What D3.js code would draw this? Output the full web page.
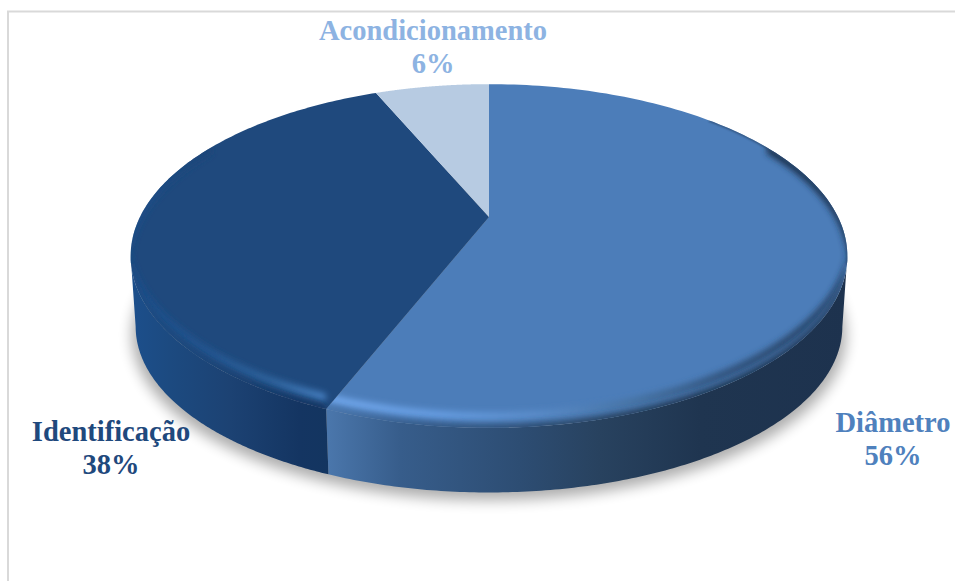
<!DOCTYPE html>
<html><head><meta charset="utf-8">
<script src="https://cdn.jsdelivr.net/npm/d3@7"></script>
<style>html,body{margin:0;background:#fff}svg{display:block}text{font-family:"Liberation Serif",serif;font-weight:bold;font-size:28.5px;text-anchor:middle}</style>
</head><body><svg id="c" width="955" height="581"></svg>
<script>
const categories=["Diâmetro","Identificação","Acondicionamento"];
const values=[56,37.6,6.4];
const topColors=["#4c7db9","#1f497d","#b7cbe2"];
const labelColors=["#4f81bd","#1f497d","#8db3e2"];
const labelPos=[[893,432],[111,441],[433,40]];

const svg=d3.select("#c"),defs=svg.append("defs");
const arcs=d3.pie().sort(null).value(d=>d)(values);
const W=955,H=581,PI=Math.PI;
// perspective disc: screen position of a rim point at angle t, depth h (0 top face, 1 base)
const cx=489,persp=.227;
function proj(t,r,h){
  const u=r*Math.sin(t),v=r*Math.cos(t),w=1+persp*v;
  const X=349*u/w,Y=-163*v/w;
  const sx=1-h*.014, sy=1-h*.035;
  return [cx+X*sx, 217+Y*sy+h*72];
}
const line=d3.line();
const samples=(a,b,r,h)=>d3.range(0,161).map(i=>proj(a+(b-a)*i/160,r,h));
const facePath=a=>line([proj(0,0,0),...samples(a.startAngle,a.endAngle,1,0)])+"Z";
const band=(a,b,h0,h1)=>line([...samples(a,b,1,h0),...samples(b,a,1,h1)])+"Z";

function blur(id,s){defs.append("filter").attr("id",id).attr("x","-20%").attr("y","-20%").attr("width","140%").attr("height","140%")
  .append("feGaussianBlur").attr("stdDeviation",s);}
blur("sh",7);blur("b1",1);blur("b3",3);
function grad(id,stops){const g=defs.append("linearGradient").attr("id",id).attr("gradientUnits","userSpaceOnUse")
  .attr("x1",130).attr("x2",850).attr("y1",0).attr("y2",0);
  stops.forEach(s=>g.append("stop").attr("offset",(s[0]-130)/720).attr("stop-color",s[1]));}
grad("sideD",[[329,"#4a76ab"],[400,"#375d8b"],[520,"#2d4d73"],[600,"#28425f"],[700,"#1f3550"],[850,"#1d324e"]]);
grad("sideI",[[130,"#1c4f8c"],[170,"#1c4a80"],[230,"#1c4273"],[300,"#143562"],[330,"#133560"]]);
grad("rimD",[[329,"#73a9ee"],[440,"#679ee3"],[540,"#5a8cc9"],[640,"#44709f"],[720,"#2f5078"],[850,"#1d324e"]]);
grad("rimI",[[130,"#1b4f8e"],[200,"#225692"],[270,"#2f659f"],[330,"#4a85c8"]]);

// drop shadow
svg.append("path").attr("d",line(samples(0,2*PI,1,1.12))+"Z").attr("fill","#000").attr("opacity",.32)
  .attr("filter","url(#sh)").attr("transform",`translate(${cx},330) scale(1.012,1) translate(${-cx},-330)`);

// chart frame
svg.append("path").attr("d",`M${W} 11.5H8V${H}`).attr("fill","none").attr("stroke","#d9d9d9").attr("stroke-width",2);

// visible wall, split at the slice boundary; ends at the silhouette angle
const sil=Math.acos(-persp);
const vis=[[sil,arcs[0].endAngle,"sideD"],[arcs[0].endAngle,2*PI-sil,"sideI"]];
svg.selectAll(".side").data(vis).join("path").attr("class","side").attr("d",d=>band(d[0],d[1],0,1)).attr("fill",d=>`url(#${d[2]})`);

// top faces with soft bevelled rim
const rims=["rimD","rimI"],walls=["sideD","sideI"];
arcs.forEach((a,i)=>{
  const cid="clip"+i;
  defs.append("clipPath").attr("id",cid).append("path").attr("d",facePath(a));
  svg.append("path").attr("d",facePath(a)).attr("fill",topColors[i]);
  if(i<2){
    const g=svg.append("g").attr("clip-path",`url(#${cid})`);
    const a0=i==0?sil*.6:a.startAngle, a1=i==1?2*PI-sil*.6:a.endAngle;
    g.append("path").attr("d",band(a0,a1,-.24,-.12)).attr("fill",`url(#${rims[i]})`).attr("filter","url(#b3)");
    g.append("path").attr("d",band(a0,a1,-.06,.08)).attr("fill",`url(#${walls[i]})`).attr("filter","url(#b3)");
  }
});
// thin dark edge on the upper right shoulder
const gEdge=svg.append("g").attr("clip-path","url(#clip0)");
gEdge.append("path").attr("d",line(samples(PI*.26,sil+.05,1,0))).attr("fill","none").attr("stroke","#2a4a70").attr("stroke-width",2).attr("filter","url(#b1)");

// labels
categories.forEach((c,i)=>{
  const t=svg.append("text").attr("x",labelPos[i][0]).attr("y",labelPos[i][1]).attr("fill",labelColors[i]);
  t.append("tspan").text(c);
  t.append("tspan").attr("x",labelPos[i][0]).attr("dy",33).text(Math.round(values[i])+"%");
});
</script></body></html>
